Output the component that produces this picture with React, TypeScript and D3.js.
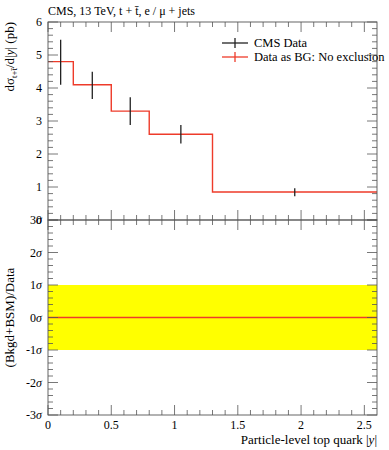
import * as d3 from 'd3'

// bin edges and cross-section per bin (pb)
const binEdges = [0, 0.2, 0.5, 0.8, 1.3, 2.6]
const xsec = [4.8, 4.1, 3.3, 2.6, 0.85]

// CMS data points with symmetric errors
const dataX = [0.1, 0.35, 0.65, 1.05, 1.95]
const dataY = [4.78, 4.08, 3.3, 2.6, 0.84]
const dataErr = [0.68, 0.41, 0.42, 0.28, 0.12]

const yTicks = [0, 1, 2, 3, 4, 5, 6]
const xTicks = [0, 0.5, 1, 1.5, 2, 2.5]
const sigmaTicks = [3, 2, 1, 0, -1, -2, -3]
const legendItems = ['CMS Data', 'Data as BG: No exclusion']

const W = 389
const H = 450
const left = 48
const right = 377
const top = 22
const mid = 220
const bottom = 415
const RED = '#ee3b2a'
const FONT = 'Liberation Serif, DejaVu Serif, serif'

export default function App() {
  const x = d3.scaleLinear().domain([0, 2.6]).range([left, right])
  const y = d3.scaleLinear().domain([0, 6]).range([mid, top])
  const ys = d3.scaleLinear().domain([-3, 3]).range([bottom, mid])

  const step = d3.line<[number, number]>().curve(d3.curveStepAfter)
    .x(d => x(d[0])).y(d => y(d[1]))
  const stepPts: [number, number][] = binEdges.map((e, i) => [e, xsec[Math.min(i, xsec.length - 1)]])

  const xMinor = d3.range(0, 26).map(i => i / 10)
  const yMinor = d3.range(0, 31).map(i => i / 5)
  const sMinor = d3.range(-15, 16).map(i => i / 5)

  const tick = (x1: number, y1: number, x2: number, y2: number, k: string) => (
    <line key={k} x1={x1} y1={y1} x2={x2} y2={y2} stroke="#555" strokeWidth={0.8} />
  )

  const isMajor = (v: number, s: number) => Math.abs(v / s - Math.round(v / s)) < 1e-6

  return (
    <svg width={W} height={H} style={{ position: 'absolute', left: 0, top: 0, background: '#fff' }}
      fontFamily={FONT}>
      <text x={left} y={15} fontSize={12}>
        CMS, 13 TeV, t + t̄, e / μ + jets
      </text>

      {/* lower panel band */}
      <rect x={left} y={ys(1)} width={right - left} height={ys(-1) - ys(1)} fill="#ffff00" />
      <line x1={left} x2={right} y1={ys(0)} y2={ys(0)} stroke={RED} strokeWidth={1.5} />

      {/* upper histogram */}
      <path d={step(stepPts) || ''} fill="none" stroke={RED} strokeWidth={1.4} />
      {dataX.map((d, i) => (
        <line key={'e' + i} x1={x(d)} x2={x(d)} y1={y(dataY[i] + dataErr[i])} y2={y(dataY[i] - dataErr[i])}
          stroke="#222" strokeWidth={1.3} />
      ))}

      {/* frames */}
      <rect x={left} y={top} width={right - left} height={mid - top} fill="none" stroke="#555" strokeWidth={0.9} />
      <rect x={left} y={mid} width={right - left} height={bottom - mid} fill="none" stroke="#555" strokeWidth={0.9} />

      {/* x ticks */}
      {xMinor.map((v, i) => {
        const L = isMajor(v, 0.5) ? 10 : 5
        const px = x(v)
        return (
          <g key={'xt' + i}>
            {tick(px, top, px, top + L, 'a')}
            {tick(px, mid, px, mid - L, 'b')}
            {tick(px, mid, px, mid + L, 'c')}
            {tick(px, bottom, px, bottom - L, 'd')}
          </g>
        )
      })}
      {/* upper y ticks */}
      {yMinor.map((v, i) => {
        const L = isMajor(v, 1) ? 10 : 5
        const py = y(v)
        return (
          <g key={'yt' + i}>
            {tick(left, py, left + L, py, 'a')}
            {tick(right, py, right - L, py, 'b')}
          </g>
        )
      })}
      {/* lower y ticks */}
      {sMinor.map((v, i) => {
        const L = isMajor(v, 1) ? 10 : 5
        const py = ys(v)
        return (
          <g key={'st' + i}>
            {tick(left, py, left + L, py, 'a')}
            {tick(right, py, right - L, py, 'b')}
          </g>
        )
      })}

      {/* tick labels */}
      {yTicks.map(v => (
        <text key={'yl' + v} x={left - 6} y={y(v) + 4} fontSize={12} textAnchor="end">{v}</text>
      ))}
      {sigmaTicks.map(v => (
        <text key={'sl' + v} x={left - 6} y={ys(v) + 4} fontSize={12} textAnchor="end">
          {v}<tspan fontStyle="italic">σ</tspan>
        </text>
      ))}
      {xTicks.map(v => (
        <text key={'xl' + v} x={x(v)} y={bottom + 14} fontSize={12} textAnchor="middle">{v}</text>
      ))}

      {/* axis titles */}
      <text x={right} y={444} fontSize={13} textAnchor="end">
        Particle-level top quark |<tspan fontStyle="italic">y</tspan>|
      </text>
      <text transform={`translate(14,${top}) rotate(-90)`} fontSize={13} textAnchor="end">
        dσ<tspan fontSize={9} dy={3}>t+t̄</tspan><tspan dy={-3}>/d|</tspan><tspan fontStyle="italic">y</tspan>| (pb)
      </text>
      <text transform={`translate(14,${ys(0)}) rotate(-90)`} fontSize={13} textAnchor="middle">
        (Bkgd+BSM)/Data
      </text>

      {/* legend */}
      {legendItems.map((t, i) => {
        const ly = 43 + i * 14
        const c = i === 0 ? '#222' : RED
        return (
          <g key={'lg' + i}>
            <line x1={222} x2={248} y1={ly} y2={ly} stroke={c} strokeWidth={1.3} />
            <line x1={235} x2={235} y1={ly - 5} y2={ly + 5} stroke={c} strokeWidth={1.3} />
            <text x={254} y={ly + 4} fontSize={12.5}>{t}</text>
          </g>
        )
      })}
    </svg>
  )
}
